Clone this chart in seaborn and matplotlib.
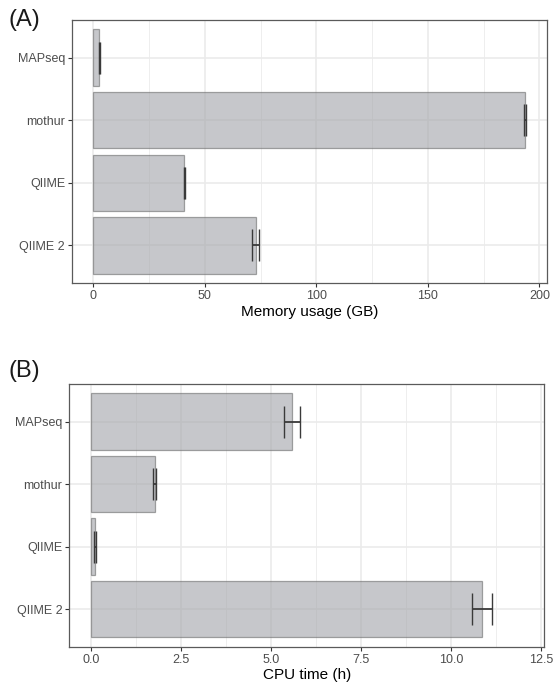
import numpy as np
import pandas as pd
import seaborn as sns
import matplotlib.pyplot as plt

# tools compared
tools = ['MAPseq', 'mothur', 'QIIME', 'QIIME 2']

# (A) memory usage in GB, mean and error half-width
mem_mean = [2.7, 193.5, 40.8, 72.8]
mem_err = [0.3, 0.6, 0.2, 1.5]

# (B) CPU time in hours, mean and error half-width
cpu_mean = [5.57, 1.77, 0.12, 10.85]
cpu_err = [0.22, 0.04, 0.03, 0.28]

mem_ticks = [0, 50, 100, 150, 200]
cpu_ticks = [0.0, 2.5, 5.0, 7.5, 10.0, 12.5]

sns.set_theme(style='white')
plt.rcParams['font.family'] = ['Liberation Sans', 'DejaVu Sans']

W, H = 554, 683
fig = plt.figure(figsize=(W / 100, H / 100), dpi=100)


def panel(box, means, errs, ticks, xlim, xlabel, label, label_y):
    # box = left, top, right, bottom in pixels
    l, t, r, b = box
    ax = fig.add_axes([l / W, 1 - b / H, (r - l) / W, (b - t) / H])
    df = pd.DataFrame({'tool': tools, 'value': means})
    sns.barplot(data=df, x='value', y='tool', order=tools, orient='h',
                color='#a4a6ab', alpha=0.62, width=0.9, errorbar=None,
                edgecolor='#6f6f6f', linewidth=0.9, saturation=1, ax=ax, zorder=2)
    ax.errorbar(means, np.arange(len(tools)), xerr=errs, fmt='none',
                ecolor='#3a3a3a', elinewidth=1.3, capsize=11.3, capthick=1.0,
                zorder=3)
    ax.set_xlim(*xlim)
    ax.set_ylim(len(tools) - 0.4, -0.6)
    ax.set_xticks(ticks)
    ax.set_xticklabels([f'{t:g}' if isinstance(t, int) else f'{t:.1f}' for t in ticks])
    minor = [(a + c) / 2 for a, c in zip(ticks[:-1], ticks[1:])]
    ax.set_xticks(minor, minor=True)
    ax.grid(True, which='major', axis='both', color='#ebebeb', lw=1.2, zorder=0)
    ax.grid(True, which='minor', axis='x', color='#ebebeb', lw=0.6, zorder=0)
    ax.set_axisbelow(True)
    ax.tick_params(axis='both', which='major', length=3, width=0.8, color='#333333',
                   labelsize=9, labelcolor='#4d4d4d', pad=2, bottom=True, left=True)
    ax.tick_params(axis='x', which='minor', length=0)
    for s in ax.spines.values():
        s.set_color('#5a5a5a')
        s.set_linewidth(0.9)
    ax.set_ylabel('')
    ax.set_xlabel(xlabel, fontsize=11, color='black', labelpad=2)
    fig.text(8 / W, 1 - label_y / H, label, fontsize=17,
             ha='left', va='center', color='#1a1a1a')
    return ax


panel((72, 20, 547, 283), mem_mean, mem_err,
      mem_ticks, (-9.55, 203.4), 'Memory usage (GB)', '(A)', 20)
panel((69.3, 384, 544, 646.7), cpu_mean, cpu_err,
      cpu_ticks, (-0.594, 12.57), 'CPU time (h)', '(B)', 371)

fig.savefig('out.png', dpi=100)
